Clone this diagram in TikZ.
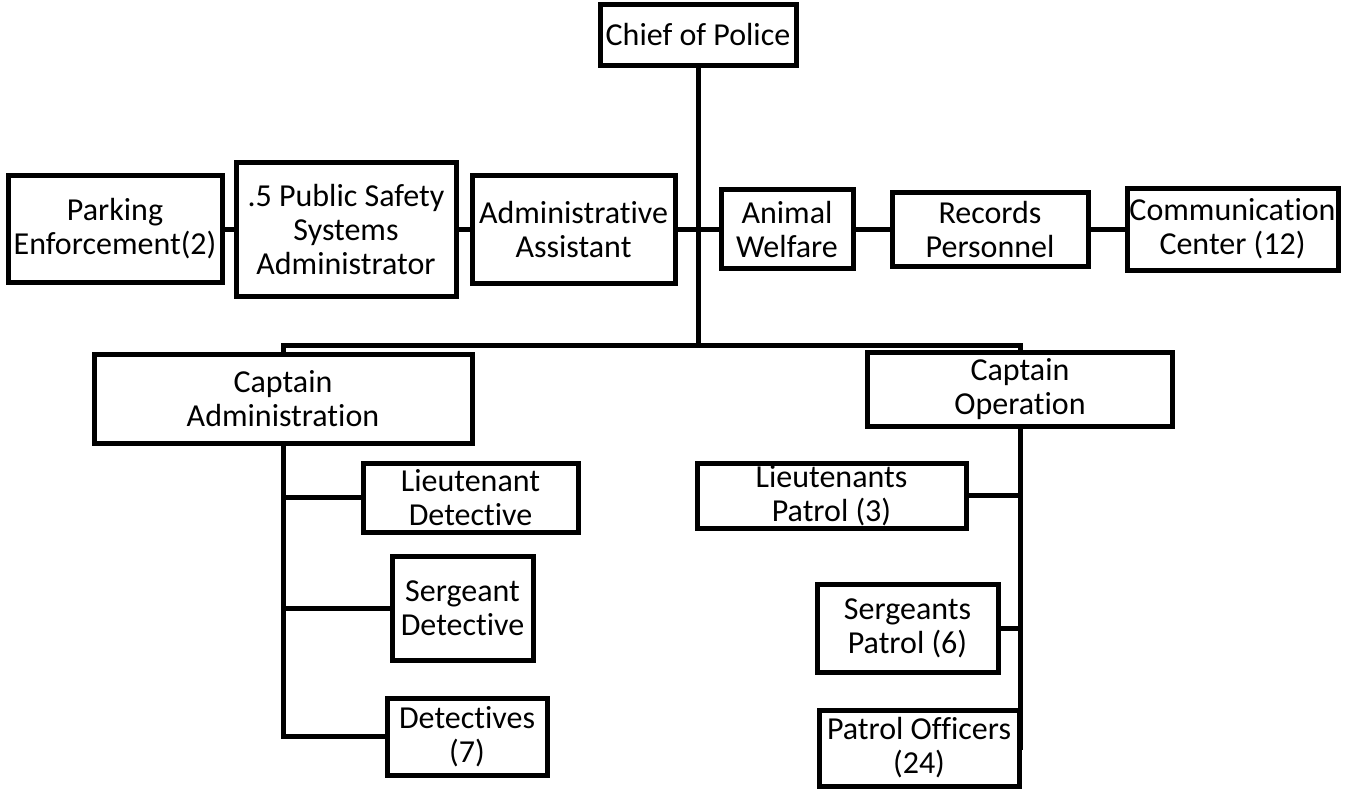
\documentclass[tikz,border=0pt]{standalone}
\usepackage{fontspec}
\setmainfont[Ligatures=NoCommon]{Carlito}
\tikzset{
  unit/.style={draw, line width=2.5pt, fill=white, align=center, inner sep=0pt,
    font=\fontsize{16}{17}\selectfont},
  link/.style={line width=2.5pt}
}
\begin{document}
\begin{tikzpicture}[x=0.5pt, y=-0.5pt]
    \useasboundingbox (0,0) rectangle (1348,788);

    % Chief
    \node[unit, minimum width=98pt, minimum height=30.5pt] (chief) at (698,34.5) {Chief of Police};

    % Staff row
    \node[unit, minimum width=107pt, minimum height=53.5pt] (parking) at (115,229) {Parking\\Enforcement(2)};
    \node[unit, minimum width=110pt, minimum height=67pt] (safety) at (346,229) {.5 Public Safety\\Systems\\Administrator};
    \node[unit, minimum width=101.5pt, minimum height=54pt] (assistant) at (573.5,229) {Administrative\\Assistant};
    \node[unit, minimum width=66pt, minimum height=39.5pt] (animal) at (787,229) {Animal\\Welfare};
    \node[unit, minimum width=98pt, minimum height=37pt] (records) at (990,229) {Records\\Personnel};
    \node[unit, minimum width=105.5pt, minimum height=41pt] (comm) at (1232.5,229) {Communication\\Center (12)};

    % Captains
    \node[unit, minimum width=189pt, minimum height=44.5pt] (capadmin) at (283,398.5) {Captain\\Administration};
    \node[unit, minimum width=152.5pt, minimum height=37pt] (capops) at (1020,389) {Captain\\Operation};

    % Administration side
    \node[unit, minimum width=107.5pt, minimum height=34.5pt] (ltdet) at (470.5,497.5) {Lieutenant\\Detective};
    \node[unit, minimum width=70.5pt, minimum height=52pt] (sgtdet) at (462.5,608) {Sergeant\\Detective};
    \node[unit, minimum width=80pt, minimum height=38.5pt] (dets) at (467,736.5) {Detectives\\(7)};

    % Operation side
    \node[unit, minimum width=134.5pt, minimum height=32.5pt] (ltpat) at (831.5,495.5) {Lieutenants\\Patrol (3)};
    \node[unit, minimum width=90.5pt, minimum height=44pt] (sgtpat) at (907.5,628) {Sergeants\\Patrol (6)};
    \node[unit, minimum width=100pt, minimum height=38pt] (patoff) at (919,748) {Patrol Officers\\(24)};

    % Connectors
    \coordinate (hub) at (698,345);
    \coordinate (opsend) at (1020,750);
    \draw[link] (chief.south) -- (hub);
    \draw[link] (capadmin.north) |- (hub) -| (capops.north);
    \draw[link] (parking) -- (safety) -- (assistant) -- (animal) -- (records) -- (comm);
    \draw[link] (capadmin.south) |- (dets.west);
    \draw[link] (capadmin.south |- ltdet.west) -- (ltdet.west);
    \draw[link] (capadmin.south |- sgtdet.west) -- (sgtdet.west);
    \draw[link] (capops.south) -- (opsend);
    \draw[link] (ltpat.east) -- (ltpat.east -| capops.south);
    \draw[link] (sgtpat.east) -- (sgtpat.east -| capops.south);
\end{tikzpicture}
\end{document}
